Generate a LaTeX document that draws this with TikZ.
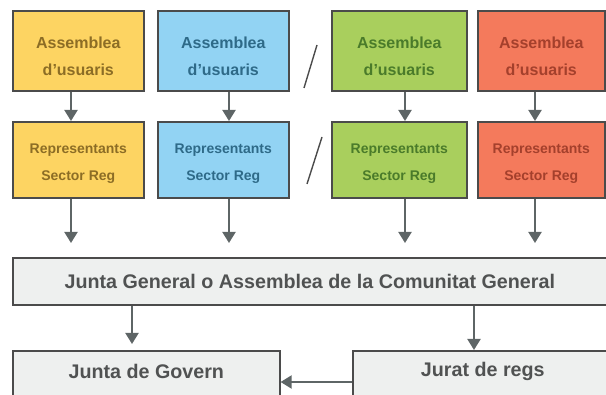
\documentclass[tikz,border=0pt]{standalone}
\usepackage{fontspec}
\setmainfont{Liberation Sans}
\usetikzlibrary{arrows.meta}
\definecolor{yfill}{HTML}{FDD462}
\definecolor{ytext}{HTML}{8C6D25}
\definecolor{bfill}{HTML}{92D3F3}
\definecolor{btext}{HTML}{2E6A88}
\definecolor{gfill}{HTML}{A9CF5D}
\definecolor{gtext}{HTML}{4A7B2A}
\definecolor{rfill}{HTML}{F47A5C}
\definecolor{rtext}{HTML}{A4402C}
\definecolor{grfill}{HTML}{EEF0EF}
\definecolor{grtext}{HTML}{505252}
\definecolor{bord}{HTML}{4B4B4B}
\definecolor{arrcol}{HTML}{5E6566}
\newcommand{\twolines}[3]{\raisebox{-#1}[\height][\depth]{\begin{tabular}{@{}c@{}}#2\\#3\end{tabular}}}
\begin{document}
\begin{tikzpicture}[x=1pt,y=-1pt,
  box/.style={draw=bord, line width=1.6pt, inner sep=0pt, anchor=north west, align=center},
  topbox/.style={box, minimum width=131pt, minimum height=80pt, font=\fontsize{16}{27}\selectfont\bfseries},
  repbox/.style={box, minimum width=131pt, minimum height=76pt, font=\fontsize{14}{27}\selectfont\bfseries},
  graybox/.style={box, fill=grfill, text=grtext, font=\fontsize{19.7}{24}\selectfont\bfseries},
  arr/.style={draw=arrcol, line width=2pt, -{Triangle[width=13pt,length=11pt]}},
  slashline/.style={draw=bord, line width=1.4pt}
]
\useasboundingbox (0,0) rectangle (606,395);

% top row
\node[topbox, fill=yfill, text=ytext] (y1) at (12,10) {\twolines{6pt}{Assemblea}{d'usuaris}};
\node[topbox, fill=bfill, text=btext] (b1) at (157,10) {\twolines{6pt}{Assemblea}{d'usuaris}};
\node[topbox, fill=gfill, text=gtext, minimum width=135pt] (g1) at (331,10) {\twolines{6pt}{Assemblea}{d'usuaris}};
\node[topbox, fill=rfill, text=rtext, minimum width=127pt] (r1) at (477,10) {\twolines{6pt}{Assemblea}{d'usuaris}};

% second row
\node[repbox, fill=yfill, text=ytext] (y2) at (12,121) {\twolines{2pt}{Representants}{Sector Reg}};
\node[repbox, fill=bfill, text=btext] (b2) at (157,121) {\twolines{2pt}{Representants}{Sector Reg}};
\node[repbox, fill=gfill, text=gtext, minimum width=135pt] (g2) at (331,121) {\twolines{2pt}{Representants}{Sector Reg}};
\node[repbox, fill=rfill, text=rtext, minimum width=127pt] (r2) at (477,121) {\twolines{2pt}{Representants}{Sector Reg}};

% gray boxes
\node[graybox, minimum width=600pt, minimum height=47pt] (jg) at (12,257) {\hspace*{-6pt}Junta General o Assemblea de la Comunitat General};
\node[graybox, minimum width=267pt, minimum height=52pt] (gov) at (12,350) {\raisebox{5pt}[\height][\depth]{Junta de Govern}};
\node[graybox, minimum width=260pt, minimum height=52pt] (jur) at (352,350) {\raisebox{5pt}[\height][\depth]{Jurat de regs}};

% arrow x positions
\coordinate (ax1) at (71,0);
\coordinate (ax2) at (229,0);
\coordinate (ax3) at (405,0);
\coordinate (ax4) at (535,0);
\coordinate (bx1) at (132,0);
\coordinate (bx2) at (474,0);
\coordinate (hy) at (0,382);

% arrows top -> second
\draw[arr] (y1.south -| ax1) -- (y2.north -| ax1);
\draw[arr] (b1.south -| ax2) -- (b2.north -| ax2);
\draw[arr] (g1.south -| ax3) -- (g2.north -| ax3);
\draw[arr] (r1.south -| ax4) -- (r2.north -| ax4);

% arrows second -> junta general
\draw[arr, shorten >=14pt] (y2.south -| ax1) -- (jg.north -| ax1);
\draw[arr, shorten >=14pt] (b2.south -| ax2) -- (jg.north -| ax2);
\draw[arr, shorten >=14pt] (g2.south -| ax3) -- (jg.north -| ax3);
\draw[arr, shorten >=14pt] (r2.south -| ax4) -- (jg.north -| ax4);

% arrows junta general -> bottom
\draw[arr, shorten >=6pt] (jg.south -| bx1) -- (gov.north -| bx1);
\draw[arr] (jg.south -| bx2) -- (jur.north -| bx2);

% horizontal arrow
\draw[arr] (jur.west |- hy) -- (gov.east |- hy);

% slashes
\draw[slashline] (317,45) -- (304,88);
\draw[slashline] (322,137) -- (307,184);
\end{tikzpicture}
\end{document}
